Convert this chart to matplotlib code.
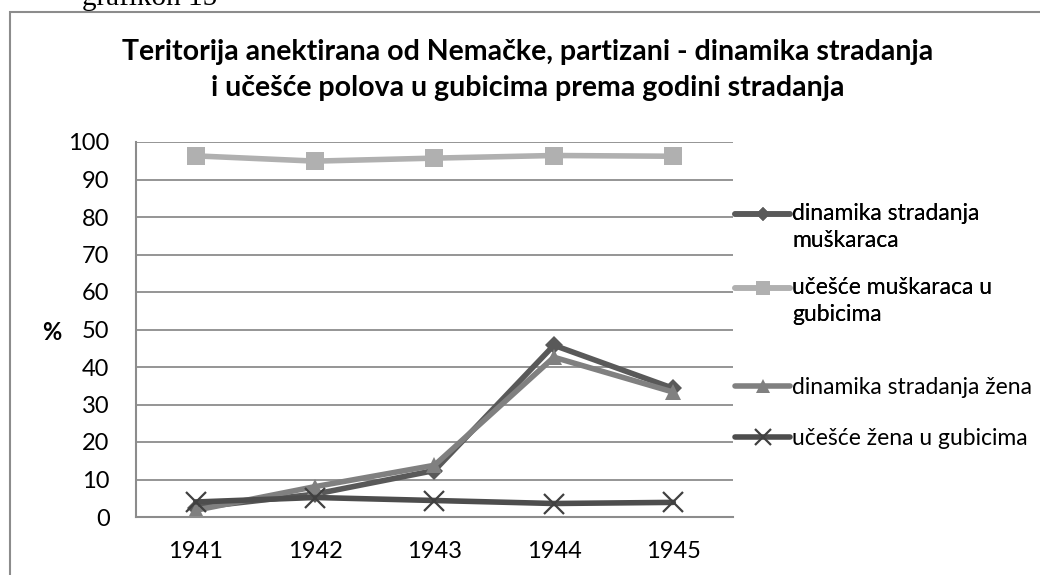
"""Teritorija anektirana od Nemačke, partizani - line chart in Excel-like gray style."""
import numpy as np
import matplotlib.pyplot as plt
from matplotlib.patches import Rectangle
from matplotlib.lines import Line2D
from matplotlib.legend_handler import HandlerLine2D

plt.rcParams["font.family"] = ["Lato", "DejaVu Sans"]

YEARS = ["1941", "1942", "1943", "1944", "1945"]
MEN_DYNAMICS = [2.5, 6.1, 12.4, 45.8, 34.3]
MEN_SHARE = [96.3, 94.9, 95.7, 96.4, 96.2]
WOMEN_DYNAMICS = [1.8, 8.1, 13.8, 42.6, 33.3]
WOMEN_SHARE = [4.0, 5.2, 4.4, 3.6, 3.9]

LABELS = [
    "dinamika stradanja\nmuškaraca",
    "učešće muškaraca u\ngubicima",
    "dinamika stradanja žena",
    "učešće žena u gubicima",
]
TITLE = ("Teritorija anektirana od Nemačke, partizani - dinamika stradanja\n"
         "i učešće polova u gubicima prema godini stradanja")


class FirstLineHandler(HandlerLine2D):
    """Put the legend line next to the first text line, like Excel does."""

    def create_artists(self, legend, orig_handle, xdescent, ydescent,
                       width, height, fontsize, trans):
        arts = super().create_artists(legend, orig_handle, xdescent, ydescent,
                                      width, height, fontsize, trans)
        for a in arts:
            a.set_ydata(np.asarray(a.get_ydata()) + 0.58 * fontsize)
        return arts


W, H = 1040, 575
fig = plt.figure(figsize=(W / 100, H / 100), dpi=100)
ax = fig.add_axes([136 / W, 1 - 517 / H, (733 - 136) / W, (517 - 142) / H])

x = range(len(YEARS))
series = [
    (MEN_DYNAMICS, "#595959", "D", 9),
    (MEN_SHARE, "#b0b0b0", "s", 13),
    (WOMEN_DYNAMICS, "#808080", "^", 12),
    (WOMEN_SHARE, "#4d4d4d", "x", 14),
]
handles = []
for (vals, color, marker, ms) in series:
    kw = dict(color=color, lw=4, marker=marker, ms=ms, solid_capstyle="round")
    if marker == "x":
        kw.update(mew=1.6, mec="#404040")
    else:
        kw.update(mew=0)
    ax.plot(x, vals, **kw)
    lkw = dict(kw)
    lkw["ms"] = ms * 0.8
    handles.append(Line2D([], [], **lkw))

ax.set_xlim(-0.5, 4.5)
ax.set_ylim(0, 100)
ax.set_yticks(range(0, 101, 10))
ax.set_xticks(list(x))
ax.set_xticklabels(YEARS)
ax.grid(axis="y", color="#8c8c8c", lw=1.3)
ax.set_axisbelow(True)
for side in ("top", "right"):
    ax.spines[side].set_visible(False)
for side in ("left", "bottom"):
    ax.spines[side].set_color("#8c8c8c")
    ax.spines[side].set_linewidth(1.5)
ax.tick_params(axis="both", length=0, labelsize=17, colors="black")
ax.tick_params(axis="x", pad=17)
ax.tick_params(axis="y", pad=19)

fig.text(42 / W, 1 - 333 / H, "%", fontsize=17, fontweight="bold",
         ha="left", va="center")

fig.text(528 / W, 1 - 70 / H, TITLE, fontsize=20.5, fontweight="bold",
         ha="center", va="center", linespacing=1.45)

leg_kw = dict(loc="upper left", frameon=False, fontsize=16.5,
              handlelength=2.4, handletextpad=0.1, borderpad=0,
              borderaxespad=0)
# leg1 = men (two-line labels), leg2 = women
leg1 = fig.legend(handles[:2], LABELS[:2],
                  bbox_to_anchor=(735 / W, 1 - 203 / H),
                  labelspacing=1.15,
                  handler_map={h: FirstLineHandler() for h in handles[:2]},
                  **leg_kw)
for t in leg1.get_texts():
    t.set_linespacing(1.35)
fig.add_artist(leg1)
leg2 = fig.legend(handles[2:], LABELS[2:],
                  bbox_to_anchor=(735 / W, 1 - 377 / H),
                  labelspacing=1.3, **leg_kw)

# chart area frame and the caption above it
fig.patches.append(Rectangle((10 / W, -0.1), 1.2, 1 - 12 / H + 0.1,
                             transform=fig.transFigure, fill=False,
                             ec="#8c8c8c", lw=1.5))
fig.text(150 / W, 1 - 5 / H, "grafikon 15", family="Liberation Serif",
         fontsize=21, ha="center", va="baseline")

fig.savefig("out.png", dpi=100)
